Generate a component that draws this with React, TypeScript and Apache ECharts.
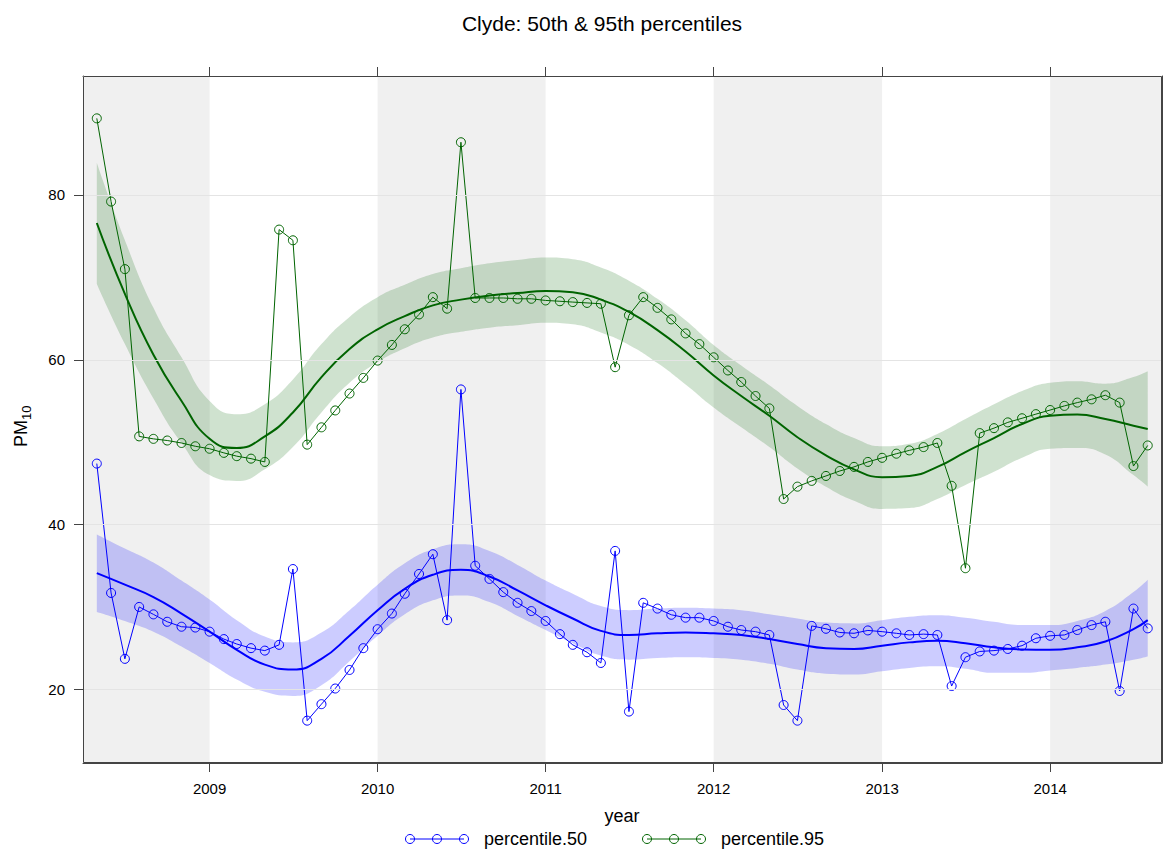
import React, { useEffect, useRef } from "react";
import * as echarts from "echarts";

// ---- data ----
const FIRST_YEAR = 2008;
const FIRST_MONTH = 5; // May 2008
const MONTH_COUNT = 76; // May 2008 .. Aug 2014
const FIT_STEP = 2; // fitted curves read every 2 months (plus the last month)

const p50 = [
  47.4, 31.7, 23.7, 30.0, 29.1, 28.2, 27.6, 27.5, 27.0, 26.1, 25.5, 25.0, 24.7, 25.4, 34.6,
  16.2, 18.2, 20.1, 22.35, 25.0, 27.3, 29.2, 31.6, 34.0, 36.4, 28.4, 56.4, 35.0, 33.4, 31.8,
  30.5, 29.5, 28.3, 26.7, 25.4, 24.5, 23.2, 36.8, 17.3, 30.5, 29.8, 29.05, 28.7, 28.7, 28.3,
  27.6, 27.2, 27.0, 26.6, 18.1, 16.2, 27.7, 27.35, 26.9, 26.8, 27.15, 27.0, 26.8, 26.6, 26.7,
  26.6, 20.4, 23.9, 24.6, 24.7, 24.9, 25.3, 26.2, 26.5, 26.6, 27.2, 27.8, 28.2, 19.8, 29.8, 27.4,
];
const p95 = [
  89.3, 79.2, 71.0, 50.7, 50.4, 50.2, 49.9, 49.5, 49.2, 48.7, 48.3, 48.0, 47.6, 75.8, 74.5,
  49.7, 51.8, 53.85, 55.9, 57.8, 59.9, 61.8, 63.7, 65.5, 67.6, 66.2, 86.4, 67.5, 67.5, 67.5,
  67.4, 67.4, 67.2, 67.1, 67.0, 66.9, 66.8, 59.1, 65.4, 67.6, 66.3, 64.9, 63.2, 61.9, 60.3,
  58.7, 57.3, 55.6, 54.1, 43.1, 44.6, 45.3, 45.9, 46.5, 47.0, 47.6, 48.1, 48.6, 49.0, 49.4,
  49.9, 44.7, 34.7, 51.1, 51.7, 52.4, 52.9, 53.4, 53.9, 54.4, 54.8, 55.2, 55.7, 54.8, 47.1, 49.6,
];

// smooth fits and their confidence bands, one value per fit month
const p50Fit = [
  34.1, 32.7, 31.2, 29.2, 27.0, 24.8, 23.0, 22.4, 23.7, 26.5, 29.6, 32.2, 33.9, 34.5, 33.7, 32.0, 30.2, 28.6, 27.1, 26.6,
  26.8, 26.9, 26.8, 26.6, 26.1, 25.5, 25.0, 24.9, 25.3, 25.7, 25.9, 25.6, 25.1, 24.85, 24.8, 25.1, 25.8, 27.3, 28.4,
];
const p50Upper = [
  38.8, 37.1, 35.4, 33.2, 30.9, 28.4, 26.4, 25.7, 26.9, 29.6, 32.7, 35.3, 37.0, 37.6, 36.8, 35.1, 33.2, 31.6, 30.1, 29.6,
  29.8, 29.9, 29.8, 29.6, 29.1, 28.6, 28.1, 28.0, 28.4, 28.8, 29.0, 28.7, 28.2, 27.8, 27.8, 28.3, 29.5, 31.8, 33.3,
];
const p50Lower = [
  29.4, 28.3, 27.0, 25.2, 23.2, 21.2, 19.7, 19.2, 20.5, 23.4, 26.5, 29.1, 30.8, 31.4, 30.6, 28.9, 27.2, 25.6, 24.1, 23.6,
  23.8, 23.9, 23.8, 23.6, 23.1, 22.4, 21.9, 21.8, 22.2, 22.6, 22.8, 22.5, 22.0, 22.0, 22.3, 22.6, 23.0, 23.6, 24.0,
];

const p95Fit = [
  76.6, 68.0, 60.6, 55.0, 50.4, 49.3, 50.7, 53.6, 57.9, 61.3, 63.7, 65.3, 66.6, 67.3, 67.8, 68.1, 68.35, 68.2, 67.3, 65.8,
  63.6, 61.0, 58.1, 55.6, 53.2, 50.6, 48.4, 46.7, 45.75, 45.9, 47.0, 48.8, 50.5, 52.2, 53.2, 53.35, 52.8, 52.0, 51.6,
];
const p95Upper = [
  83.9, 74.5, 66.3, 60.3, 55.0, 53.4, 54.6, 57.6, 61.9, 65.2, 67.6, 69.1, 70.4, 71.1, 71.7, 72.1, 72.4, 72.2, 71.2, 69.6,
  67.4, 64.8, 61.8, 59.3, 56.9, 54.4, 52.2, 50.5, 49.5, 49.8, 51.0, 52.8, 54.6, 56.2, 57.2, 57.4, 57.1, 57.9, 58.6,
];
const p95Lower = [
  69.2, 61.9, 55.3, 49.9, 46.0, 45.3, 46.7, 49.4, 53.6, 57.2, 59.7, 61.4, 62.7, 63.4, 63.9, 64.2, 64.5, 64.3, 63.3, 61.8,
  59.6, 57.0, 54.2, 51.8, 49.4, 46.8, 44.6, 42.9, 41.9, 42.0, 43.1, 44.8, 46.4, 48.1, 49.2, 49.3, 48.5, 46.0, 44.6,
];

const yearTicks = [2009, 2010, 2011, 2012, 2013, 2014];
const yTicks = [20, 40, 60, 80];
const shadedYears = [[2008, 2009], [2010, 2011], [2012, 2013], [2014, 2015]];
const legendNames = ["percentile.50", "percentile.95"];
const TITLE = "Clyde: 50th & 95th percentiles";

// ---- derived ----
const months = Array.from({ length: MONTH_COUNT }, (_, i) => Date.UTC(FIRST_YEAR, FIRST_MONTH - 1 + i, 1));
const fitMonths = months.filter((_, i) => i % FIT_STEP === 0 || i === MONTH_COUNT - 1);
const X_MIN = Date.UTC(2008, 3, 1);
const X_MAX = Date.UTC(2014, 8, 1);
const Y_MIN = 11.06;
const Y_MAX = 94.44;
const yearTs = yearTicks.map((y) => Date.UTC(y, 0, 1));

const BLUE = "#0000ff";
const GREEN = "#006400";
const FONT = "'Liberation Sans', Arial, sans-serif";
const AXIS = "#444444";
const GRID = { left: 83, top: 76, right: 1162, bottom: 763 };

function legendItem(x: number, color: string, name: string) {
  const y = 839;
  const xs = [x, x + 27, x + 54];
  return [
    { type: "line", shape: { x1: xs[0], y1: y, x2: xs[2], y2: y }, style: { stroke: color, lineWidth: 1 } },
    ...xs.map((cx) => ({ type: "circle", shape: { cx, cy: y, r: 4.5 }, style: { fill: "none", stroke: color, lineWidth: 1 } })),
    { type: "text", x: x + 74, y, style: { text: name, fill: "#000", font: `18px ${FONT}`, verticalAlign: "middle", align: "left" } },
  ];
}

export default function App() {
  const ref = useRef<HTMLDivElement>(null);
  useEffect(() => {
    if (!ref.current) return;
    const chart = echarts.init(ref.current, null, { renderer: "svg" });
    const band = (id: string, lower: number[], upper: number[], color: string) => [
      {
        type: "line", name: id + "-lower", stack: id, data: fitMonths.map((t, k) => [t, lower[k]]),
        smooth: true, showSymbol: false, symbol: "none", lineStyle: { opacity: 0, width: 0 }, silent: true, z: 2,
      },
      {
        type: "line", name: id + "-band", stack: id, data: fitMonths.map((t, k) => [t, upper[k] - lower[k]]),
        smooth: true, showSymbol: false, symbol: "none", lineStyle: { opacity: 0, width: 0 },
        areaStyle: { color, opacity: 1 }, silent: true, z: 2,
      },
    ];
    const hiddenAxis = {
      axisLine: { show: false }, axisTick: { show: false }, axisLabel: { show: false }, splitLine: { show: false },
    };
    const option: any = {
      animation: false,
      useUTC: true,
      backgroundColor: "#ffffff",
      title: {
        text: TITLE, left: 597, top: 8, textAlign: "center",
        textStyle: { fontFamily: FONT, fontSize: 21, fontWeight: "normal", color: "#000" },
      },
      grid: { left: GRID.left, right: 1163 - GRID.right, top: GRID.top, bottom: 850 - GRID.bottom, containLabel: false },
      xAxis: [
        { type: "time", position: "bottom", min: X_MIN, max: X_MAX, ...hiddenAxis },
        {
          type: "value", position: "bottom", min: X_MIN, max: X_MAX,
          axisLine: { show: true, onZero: false, lineStyle: { color: AXIS, width: 1 } },
          axisTick: { show: true, customValues: yearTs, length: 9, lineStyle: { color: AXIS } },
          axisLabel: {
            customValues: yearTs, margin: 18, color: "#000", fontSize: 15, fontFamily: FONT,
            formatter: (v: number) => String(new Date(v).getUTCFullYear()),
          },
          splitLine: { show: false },
        },
        {
          type: "value", position: "top", min: X_MIN, max: X_MAX,
          axisLine: { show: true, onZero: false, lineStyle: { color: AXIS, width: 1 } },
          axisTick: { show: true, customValues: yearTs, length: 9, lineStyle: { color: AXIS } },
          axisLabel: { show: false },
          splitLine: { show: false },
        },
      ],
      yAxis: [
        {
          type: "value", position: "left", min: Y_MIN, max: Y_MAX,
          axisLine: { show: true, onZero: false, lineStyle: { color: AXIS, width: 1 } },
          axisTick: { show: true, customValues: yTicks, length: 9, lineStyle: { color: AXIS } },
          axisLabel: { customValues: yTicks, margin: 18, color: "#000", fontSize: 15, fontFamily: FONT },
          splitLine: { show: false },
        },
        {
          type: "value", position: "right", min: Y_MIN, max: Y_MAX,
          axisLine: { show: true, onZero: false, lineStyle: { color: AXIS, width: 1 } },
          axisTick: { show: true, customValues: yTicks, length: 9, lineStyle: { color: AXIS } },
          axisLabel: { show: false },
          splitLine: { show: false },
        },
      ],
      series: [
        {
          type: "line", name: "bg", data: [], silent: true, z: 0,
          markArea: {
            silent: true,
            itemStyle: { color: "#f0f0f0" },
            data: shadedYears.map(([a, b]) => [
              { xAxis: Math.max(X_MIN, Date.UTC(a, 0, 1)) },
              { xAxis: Math.min(X_MAX, Date.UTC(b, 0, 1)) },
            ]),
          },
          markLine: {
            silent: true, symbol: ["none", "none"], label: { show: false },
            lineStyle: { color: "#e4e4e4", type: "solid", width: 1 },
            data: yTicks.map((v) => ({ yAxis: v })),
          },
        },
        ...band("p95", p95Lower, p95Upper, "rgba(0,100,0,0.19)"),
        ...band("p50", p50Lower, p50Upper, "rgba(0,0,255,0.2)"),
        {
          type: "line", name: "p95 fit", data: fitMonths.map((t, k) => [t, p95Fit[k]]), smooth: true,
          showSymbol: false, symbol: "none", lineStyle: { color: GREEN, width: 2 }, z: 3,
        },
        {
          type: "line", name: "p50 fit", data: fitMonths.map((t, k) => [t, p50Fit[k]]), smooth: true,
          showSymbol: false, symbol: "none", lineStyle: { color: BLUE, width: 2 }, z: 3,
        },
        {
          type: "line", name: legendNames[1], data: months.map((t, i) => [t, p95[i]]),
          symbol: "circle", symbolSize: 9, showSymbol: true,
          lineStyle: { color: GREEN, width: 1 },
          itemStyle: { color: "rgba(0,0,0,0)", borderColor: GREEN, borderWidth: 1 }, z: 4,
        },
        {
          type: "line", name: legendNames[0], data: months.map((t, i) => [t, p50[i]]),
          symbol: "circle", symbolSize: 9, showSymbol: true,
          lineStyle: { color: BLUE, width: 1 },
          itemStyle: { color: "rgba(0,0,0,0)", borderColor: BLUE, borderWidth: 1 }, z: 4,
        },
      ],
      graphic: [
        {
          type: "rect", z: 100, silent: true,
          shape: { x: GRID.left + 0.5, y: GRID.top + 0.5, width: GRID.right - GRID.left - 1, height: GRID.bottom - GRID.top - 1 },
          style: { fill: "none", stroke: AXIS, lineWidth: 1 },
        },
        {
          type: "group", x: 21, y: 420, rotation: Math.PI / 2,
          children: [
            { type: "text", x: 0, y: 0, style: { text: "PM", fill: "#000", font: `18px ${FONT}`, align: "right", verticalAlign: "middle" } },
            { type: "text", x: 0, y: 5, style: { text: "10", fill: "#000", font: `13px ${FONT}`, align: "left", verticalAlign: "middle" } },
          ],
        },
        { type: "text", x: 622, y: 816, style: { text: "year", fill: "#000", font: `18px ${FONT}`, align: "center", verticalAlign: "middle" } },
        ...legendItem(410, BLUE, legendNames[0]),
        ...legendItem(647, GREEN, legendNames[1]),
      ],
    };
    chart.setOption(option);
    return () => chart.dispose();
  }, []);
  return <div ref={ref} style={{ position: "fixed", left: 0, top: 0, width: 1163, height: 850 }} />;
}
